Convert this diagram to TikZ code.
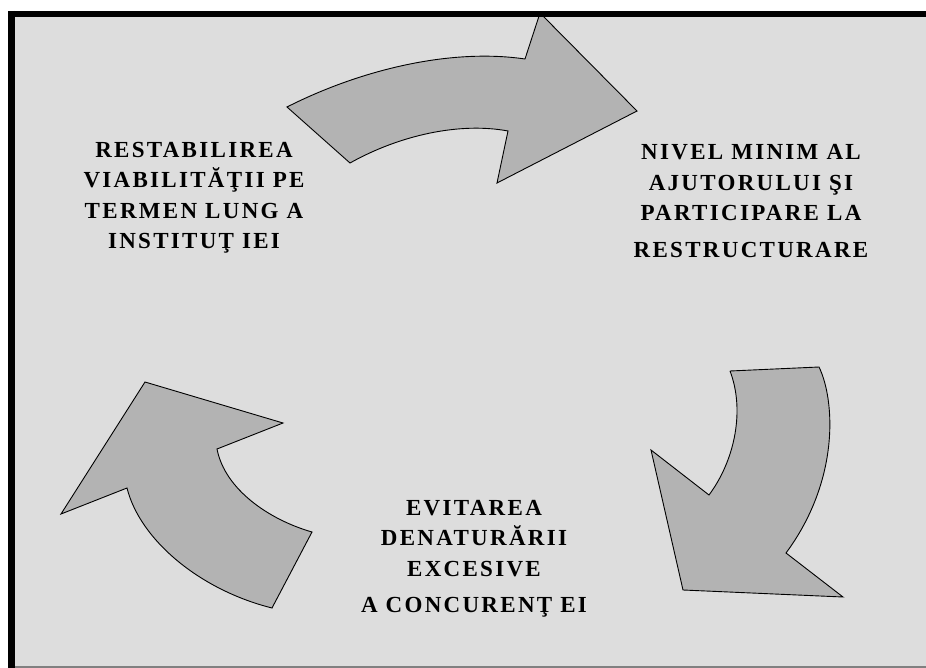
\documentclass[tikz,border=0pt]{standalone}
\usepackage{fontspec}
\setmainfont{Liberation Serif}
\newfontfamily\stepfont[LetterSpace=10]{Liberation Serif}
\usepackage{xcolor}
\usepackage{tikz}
\usetikzlibrary{positioning,calc}
\definecolor{panelgray}{HTML}{DDDDDD}
\definecolor{arrowgray}{HTML}{B3B3B3}

\begin{document}
\begin{tikzpicture}[
  x=1pt, y=-1pt,
  goal/.style={align=center, inner sep=0pt, font=\stepfont\bfseries\fontsize{23}{30.5}\selectfont},
  bigarrow/.style={fill=arrowgray, draw=black, line width=0.9pt, line join=miter},
]
  \useasboundingbox (0,0) rectangle (926,668);
  \fill[white] (0,0) rectangle (926,668);
  \fill[panelgray] (8,11) rectangle (926,668);

  % three curved arrows of the cycle
  \draw[bigarrow] (287,107) .. controls (360,70) and (450,48) .. (525,59)
    -- (540,13) -- (637,111) -- (497,183) -- (508,131)
    .. controls (460,122) and (400,135) .. (350,163) -- cycle;
  \draw[bigarrow] (730,371) -- (819,367)
    .. controls (835,400) and (840,480) .. (786,553)
    -- (843,597) -- (683,590) -- (651,450) -- (709,495)
    .. controls (735,460) and (745,410) .. (730,371);
  \draw[bigarrow] (145,382) -- (283,423) -- (217,449)
    .. controls (225,490) and (270,520) .. (312,532)
    -- (272,608) .. controls (200,590) and (140,540) .. (127,488)
    -- (61,514) -- cycle;

  % frame
  \draw[line width=6pt] (8,14) -- (926,14);
  \draw[line width=7pt] (11.5,11) -- (11.5,668);
  \draw[gray, line width=1.5pt] (15,667) -- (926,667);

  % texts
  \node[goal] (restab) at (194,198) {RESTABILIREA\\VIABILITĂŢII PE\\TERMEN LUNG A\\INSTITUŢ IEI};
  \node[goal] (nivel) at (751,201) {NIVEL MINIM AL\\AJUTORULUI ŞI\\PARTICIPARE LA\\[6pt]RESTRUCTURARE};
  \node[goal] (evit) at (474,559) {EVITAREA\\DENATURĂRII\\EXCESIVE\\[6pt]A CONCURENŢ EI};
\end{tikzpicture}
\end{document}
